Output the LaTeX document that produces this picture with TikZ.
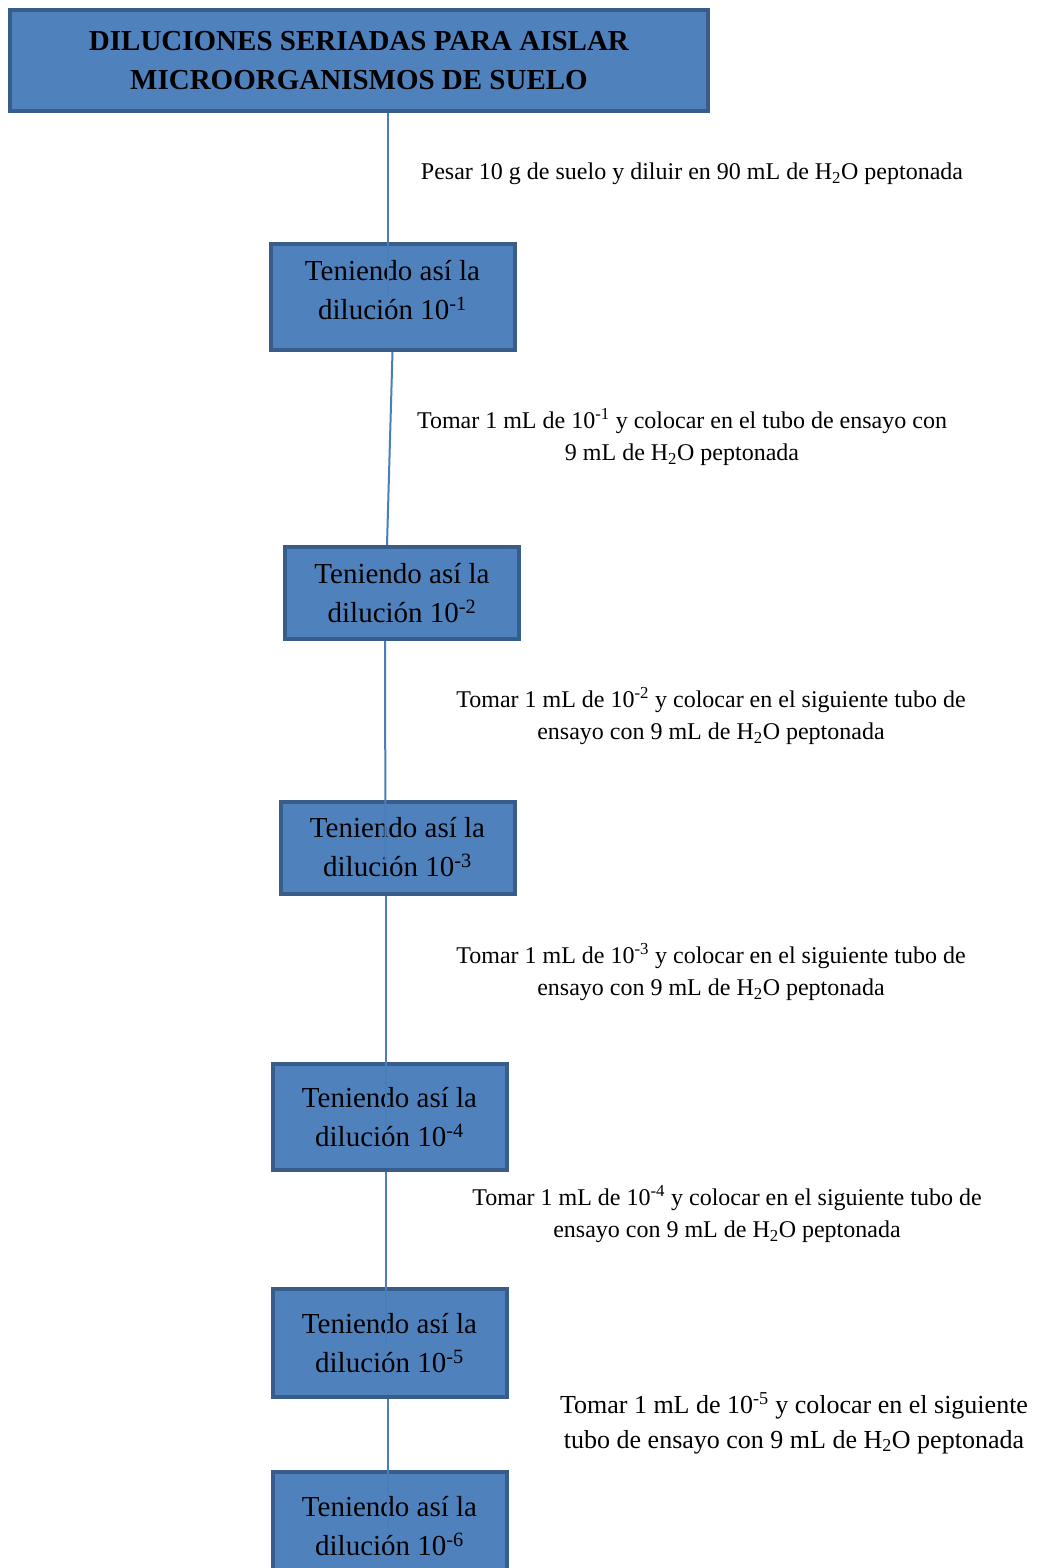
\documentclass[tikz,border=0pt]{standalone}
\usepackage{fontspec}
\setmainfont{Liberation Serif}
\definecolor{boxblue}{RGB}{79,129,189}
\definecolor{boxedge}{RGB}{56,93,138}
\definecolor{linkblue}{RGB}{74,126,187}
\tikzset{
  stepbox/.style={
    rectangle,
    fill=boxblue,
    draw=boxedge,
    line width=4pt,
    align=center,
    inner sep=0pt,
    font=\fontsize{29}{39}\selectfont
  },
  titlebox/.style={
    stepbox,
    minimum width=698pt,
    minimum height=101pt,
    font=\fontsize{29}{39}\selectfont\bfseries
  },
  dilbox/.style={
    stepbox,
    minimum width=234pt,
    minimum height=92pt
  },
  note/.style={align=center, inner sep=0pt, font=\fontsize{24}{32}\selectfont},
  link/.style={draw=linkblue, line width=2pt}
}
\begin{document}
\begin{tikzpicture}[x=1pt,y=-1pt]
  \useasboundingbox[fill=white] (0,0) rectangle (1041,1568);

  % boxes
  \node[titlebox] (title) at (359,60.5)
    {DILUCIONES SERIADAS PARA AISLAR\\MICROORGANISMOS DE SUELO};
  \node[dilbox, minimum width=244pt, minimum height=106pt,
        text depth=14pt] (d1) at (392.5,297)
    {Teniendo así la\\dilución 10\textsuperscript{-1}};
  \node[dilbox] (d2) at (402,593)
    {Teniendo así la\\dilución 10\textsuperscript{-2}};
  \node[dilbox] (d3) at (397.5,847.5)
    {Teniendo así la\\dilución 10\textsuperscript{-3}};
  \node[dilbox, minimum height=106pt] (d4) at (389.5,1117)
    {Teniendo así la\\dilución 10\textsuperscript{-4}};
  \node[dilbox, minimum height=108pt] (d5) at (389.5,1343)
    {Teniendo así la\\dilución 10\textsuperscript{-5}};
  \node[dilbox, minimum height=108pt] (d6) at (389.5,1526)
    {Teniendo así la\\dilución 10\textsuperscript{-6}};

  % steps
  \node[note] (s0) at (692,174)
    {Pesar 10 g de suelo y diluir en 90 mL de H\textsubscript{2}O peptonada};
  \node[note] (s1) at (682,437)
    {Tomar 1 mL de 10\textsuperscript{-1} y colocar en el tubo de ensayo con\\
     9 mL de H\textsubscript{2}O peptonada};
  \node[note] (s2) at (711,716)
    {Tomar 1 mL de 10\textsuperscript{-2} y colocar en el siguiente tubo de\\
     ensayo con 9 mL de H\textsubscript{2}O peptonada};
  \node[note] (s3) at (711,972)
    {Tomar 1 mL de 10\textsuperscript{-3} y colocar en el siguiente tubo de\\
     ensayo con 9 mL de H\textsubscript{2}O peptonada};
  \node[note] (s4) at (727,1214)
    {Tomar 1 mL de 10\textsuperscript{-4} y colocar en el siguiente tubo de\\
     ensayo con 9 mL de H\textsubscript{2}O peptonada};
  \node[note, font=\fontsize{26}{35}\selectfont] (s5) at (794,1423)
    {Tomar 1 mL de 10\textsuperscript{-5} y colocar en el siguiente\\
     tubo de ensayo con 9 mL de H\textsubscript{2}O peptonada};

  % connectors (drawn over the boxes)
  \draw[link] (title.south -| d1.center) ++(-5,0) -- ([xshift=-5pt]d1.center);
  \draw[link] (d1.south) -- ([xshift=-15pt]d2.north);
  \draw[link] ([xshift=-17pt]d2.south) -- ([xshift=-12pt,yshift=-15pt]d3.center);
  \draw[link] ([xshift=-12pt]d3.south) -- ([xshift=-4pt,yshift=-13pt]d4.center);
  \draw[link] ([xshift=-4pt]d4.south) -- ([xshift=-4pt]d5.center);
  \draw[link] ([xshift=-2pt]d5.south) -- ([xshift=-2pt]d6.center);
\end{tikzpicture}
\end{document}
